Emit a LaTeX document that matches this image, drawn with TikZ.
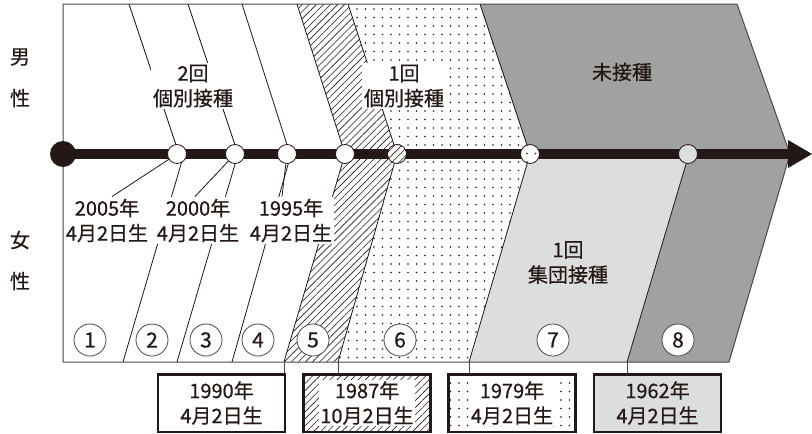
\documentclass[tikz,border=0pt]{standalone}
\usepackage{fontspec}
\setmainfont[FakeBold=0.6]{Noto Sans CJK JP}
\usetikzlibrary{patterns.meta}
\definecolor{ink}{HTML}{231815}
\definecolor{framec}{HTML}{4A4747}
\definecolor{dgrey}{HTML}{A0A1A0}
\definecolor{lgrey}{HTML}{DCDDDD}
\tikzset{
  hatchfill/.style={pattern={Lines[angle=45,distance=5pt,line width=0.6pt]},pattern color=ink},
  dotfill/.style={pattern={Dots[distance=8.5pt,radius=0.8pt]},pattern color=ink},
  bound/.style={draw=ink,line width=0.8pt},
  lbl/.style={font=\fontsize{20}{25}\selectfont,text=ink,align=center,inner sep=2pt},
  wlbl/.style={lbl,fill=white},
  axdot/.style={circle,draw=ink,line width=0.8pt,minimum size=19pt,inner sep=0pt,fill=white},
  numc/.style={circle,draw=framec,line width=0.8pt,fill=white,minimum size=32pt,inner sep=0pt,font=\fontsize{21}{21}\selectfont,text=ink},
  datebox/.style={lbl,draw=ink,line width=2.5pt,minimum width=127pt,minimum height=57.5pt,inner sep=0pt},
  conn/.style={draw=framec,line width=0.8pt},
  side/.style={font=\fontsize{20}{20}\selectfont,text=ink},
}
\begin{document}
\begin{tikzpicture}[x=1pt,y=-1pt]
\fill[white] (0,0) rectangle (812,434);
\useasboundingbox (0,0) rectangle (812,434);
% vertices
\coordinate (tL) at (63,4);   \coordinate (aL) at (63,154); \coordinate (bL) at (63,362);
\coordinate (t1) at (129,4);  \coordinate (u1) at (179,154); \coordinate (l1) at (184,154); \coordinate (b1) at (123,362);
\coordinate (t2) at (188,4);  \coordinate (u2) at (238,154); \coordinate (l2) at (238,154); \coordinate (b2) at (177,362);
\coordinate (t3) at (242,4);  \coordinate (u3) at (290,154); \coordinate (l3) at (291,154); \coordinate (b3) at (232,362);
\coordinate (t4) at (297,4);  \coordinate (a4) at (345,154); \coordinate (b4) at (284,362);
\coordinate (t5) at (348,4);  \coordinate (a5) at (397,154); \coordinate (b5) at (338,362);
\coordinate (t6) at (480,4);  \coordinate (a6) at (530,154); \coordinate (b6) at (469,362);
\coordinate (a7) at (689,154); \coordinate (b7) at (627,362);
\coordinate (tR) at (737,4);  \coordinate (aR) at (790,154); \coordinate (bR) at (729,362);
\coordinate (arTop) at (788,140); \coordinate (arTip) at (812,154); \coordinate (arBot) at (788,168);
% regions
\fill[hatchfill] (t4) -- (a4) -- (b4) -- (b5) -- (a5) -- (t5) -- cycle;
\fill[dotfill] (t5) -- (a5) -- (b5) -- (b6) -- (a6) -- (t6) -- cycle;
\fill[dgrey] (t6) -- (a6) -- (aR) -- (tR) -- cycle;
\fill[lgrey] (a6) -- (b6) -- (b7) -- (a7) -- cycle;
\fill[dgrey] (a7) -- (b7) -- (bR) -- (aR) -- cycle;
% boundaries
\draw[bound] (t1) -- (u1);  \draw[bound] (l1) -- (b1);
\draw[bound] (t2) -- (u2);  \draw[bound] (l2) -- (b2);
\draw[bound] (t3) -- (u3);  \draw[bound] (l3) -- (b3);
\draw[bound] (t4) -- (a4) -- (b4);
\draw[bound] (t5) -- (a5) -- (b5);
\draw[bound] (t6) -- (a6) -- (b6);
\draw[bound] (a7) -- (b7);
\draw[draw=framec,line width=1pt] (tL) -- (tR) -- (aR) -- (bR) -- (bL) -- cycle;
% axis
\draw[ink,line width=9.5pt] (aL) -- (aR);
\fill[ink] (arTop) -- (arTip) -- (arBot) -- cycle;
\node[circle,fill=ink,minimum size=26pt,inner sep=0pt] (start) at (aL) {};
\node[axdot] (c1) at (177,154) {};
\node[axdot] (c2) at (235,154) {};
\node[axdot] (c3) at (287,154) {};
\node[axdot] (c4) at (345,154) {};
\node[axdot,fill=none,preaction={fill=white},hatchfill,draw=ink] (c5) at (397,154) {};
\node[axdot,fill=none,preaction={fill=white},dotfill,draw=ink] (c6) at (530,154) {};
\node[axdot,fill=lgrey] (c7) at (688,154) {};
% birth labels
\node[wlbl] (L1) at (107,220.5) {2005年\\4月2日生};
\node[wlbl] (L2) at (198,220.5) {2000年\\4月2日生};
\node[wlbl] (L3) at (291,220.5) {1995年\\4月2日生};
\draw[bound] (c1) -- ([xshift=5pt]L1.north);
\draw[bound] (c2) -- ([xshift=-3pt]L2.north);
\draw[bound] (c3) -- ([xshift=-9pt]L3.north);
% region texts
\node[wlbl] (r1) at (193,86) {2回\\個別接種};
\node[wlbl] (r2) at (404,86) {1回\\個別接種};
\node[lbl] (r3) at (622,72) {未接種};
\node[lbl] (r4) at (568,262.5) {1回\\集団接種};
% side labels
\node[side] (m1) at (20,57) {男};
\node[side] (m2) at (20,98) {性};
\node[side] (f1) at (20,240) {女};
\node[side] (f2) at (20,281) {性};
% circled numbers
\node[numc] (n1) at (90,340) {1};
\node[numc] (n2) at (152,340) {2};
\node[numc] (n3) at (206,340) {3};
\node[numc] (n4) at (258,340) {4};
\node[numc] (n5) at (313,340) {5};
\node[numc] (n6) at (400,340) {6};
\node[numc] (n7) at (553,340) {7};
\node[numc] (n8) at (678,340) {8};
% date boxes
\node[datebox,fill=white] (d1) at (221.5,403) {1990年\\4月2日生};
\node[datebox,preaction={fill=white},hatchfill] (d2) at (367,403) {};
\node[wlbl,inner sep=1pt] (d2t) at (d2) {1987年\\10月2日生};
\node[datebox,preaction={fill=white},dotfill] (d3) at (512,403) {};
\node[wlbl,inner sep=1pt] (d3t) at (d3) {1979年\\4月2日生};
\node[datebox,fill=lgrey] (d4) at (657.5,403) {1962年\\4月2日生};
\draw[conn] (b4) -- (b4 |- d1.north);
\draw[conn] (b5) -- (b5 |- d2.north);
\draw[conn] (b6) -- (b6 |- d3.north);
\draw[conn] (b7) -- (b7 |- d4.north);
\end{tikzpicture}
\end{document}
